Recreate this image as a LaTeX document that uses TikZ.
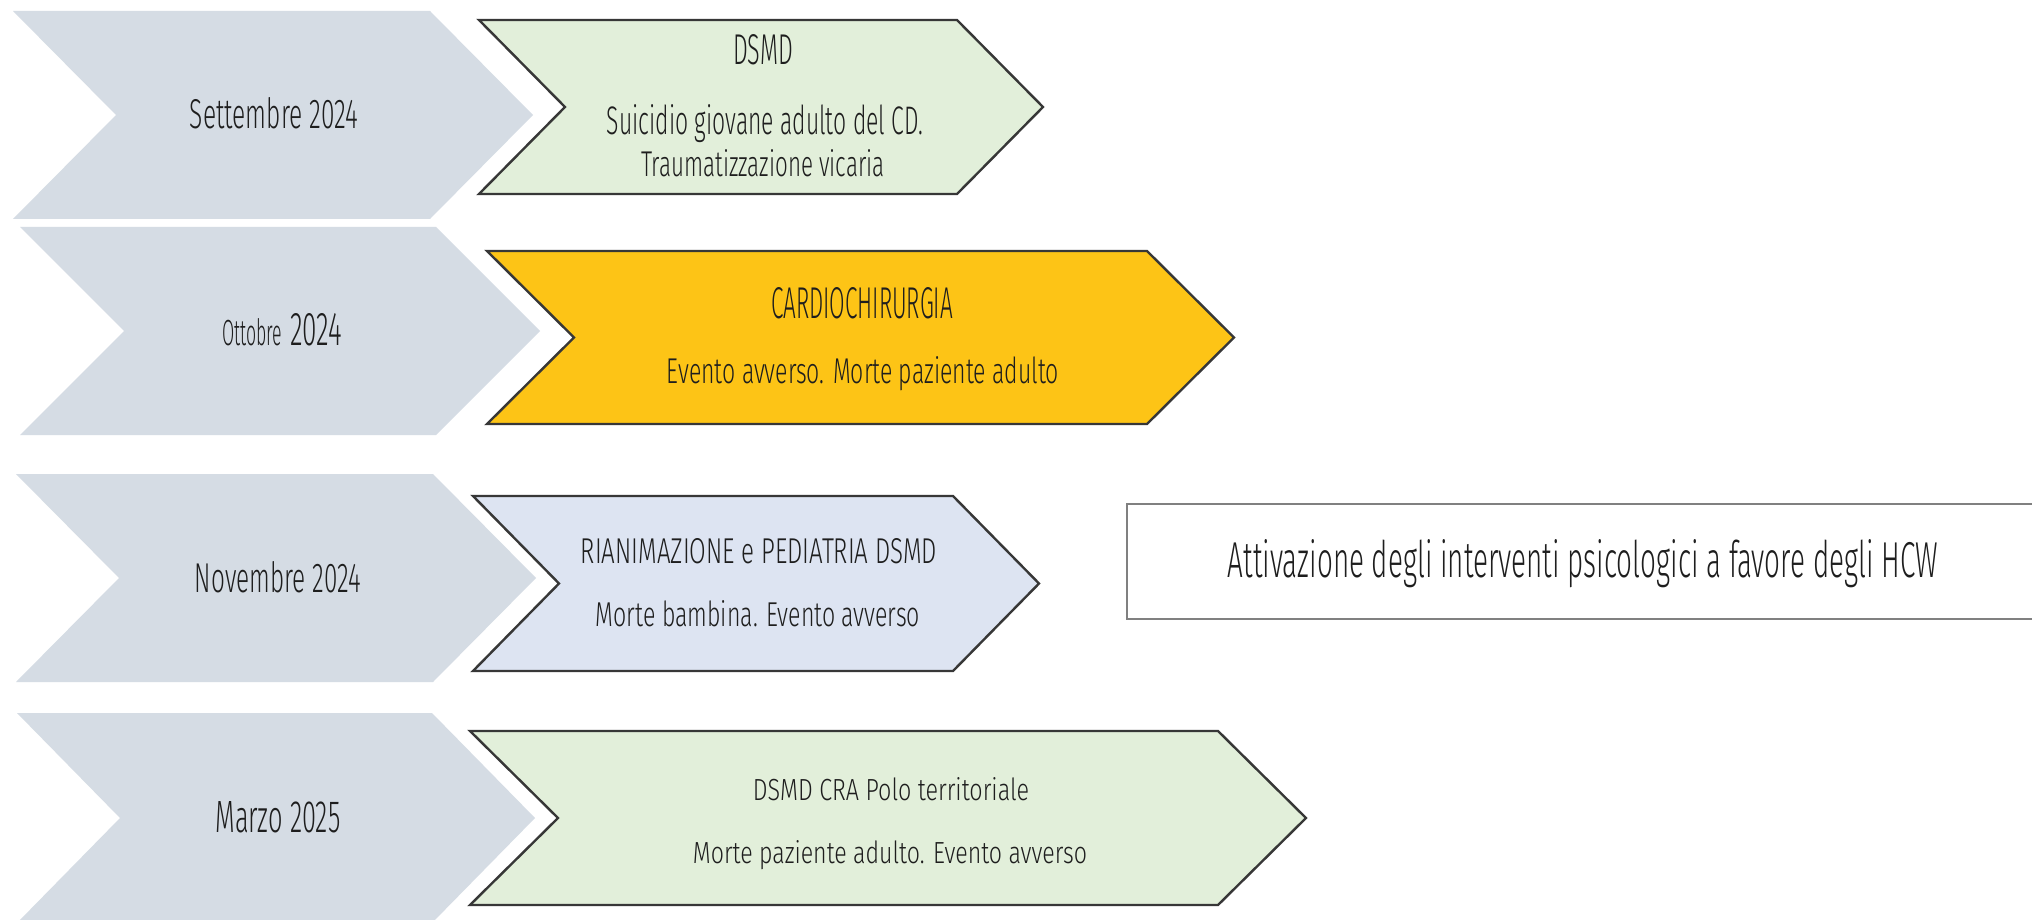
\documentclass[tikz,border=0pt]{standalone}
\usepackage{fontspec}
\setmainfont{Fira Sans Light}
\usepackage{graphicx}
\definecolor{chgray}{RGB}{213,220,228}
\definecolor{chgreen}{RGB}{226,239,218}
\definecolor{chorange}{RGB}{253,196,22}
\definecolor{chblue}{RGB}{221,228,242}
\definecolor{chline}{RGB}{55,55,55}
\definecolor{boxline}{RGB}{128,128,128}
\definecolor{txt}{RGB}{30,30,30}
% width, cap height, text
\newcommand\fitt[3]{\resizebox{#1pt}{#2pt}{#3}}
% style, xleft, xright, ytop, ybottom, depth
\newcommand\drawchev[6]{\path[#1] (#2,#4) -- (#3,#4) -- ({#3+#6},{(#4+#5)/2}) -- (#3,#5) -- (#2,#5) -- ({#2+#6},{(#4+#5)/2}) -- cycle;}
\begin{document}
\begin{tikzpicture}[x=1pt,y=-1pt,
  graychev/.style={fill=chgray,draw=none},
  evchev/.style={draw=chline,line width=2.4pt,line join=miter},
  lbl/.style={anchor=base,inner sep=0pt,outer sep=0pt,text=txt}]
\useasboundingbox (0,0) rectangle (2032,920);
\fill[white] (0,0) rectangle (2032,920);

% grey date chevrons
\drawchev{graychev}{13}{430}{11}{219}{103}
\drawchev{graychev}{20}{436}{227}{435}{104}
\drawchev{graychev}{16}{433}{474}{682}{103}
\drawchev{graychev}{17}{432}{713}{923}{103}

% event chevrons
\drawchev{evchev,fill=chgreen}{479}{957}{20}{194}{86}
\drawchev{evchev,fill=chorange}{487}{1147}{251}{424}{87}
\drawchev{evchev,fill=chblue}{473}{953}{496}{671}{86}
\drawchev{evchev,fill=chgreen}{470}{1218}{731}{905}{88}

% right box
\draw[boxline,line width=2.4pt,fill=white] (1127,504) rectangle (2045,619);

% date labels
\node[lbl] (d1) at (274,129) {\fitt{168}{31}{Settembre 2024}};
\node[lbl] (d2) at (282,345) {\fitt{60}{27}{Ottobre}\hspace{8pt}\fitt{52}{32}{2024}};
\node[lbl] (d3) at (278,592) {\fitt{166}{31}{Novembre 2024}};
\node[lbl] (d4) at (278,832) {\fitt{125}{31}{Marzo 2025}};

% event texts
\node[lbl] (e1a) at (763,65) {\fitt{60}{30}{DSMD}};
\node[lbl] (e1b) at (765,135) {\fitt{316}{30}{Suicidio giovane adulto del CD.}};
\node[lbl] (e1c) at (763,177) {\fitt{243}{27}{Traumatizzazione vicaria}};

\node[lbl] (e2a) at (862,318) {\fitt{182}{31}{CARDIOCHIRURGIA}};
\node[lbl] (e2b) at (863,383) {\fitt{392}{27}{Evento avverso. Morte paziente adulto}};

\node[lbl] (e3a) at (759,563) {\fitt{356}{25}{RIANIMAZIONE e PEDIATRIA DSMD}};
\node[lbl] (e3b) at (758,626) {\fitt{324}{26}{Morte bambina. Evento avverso}};

\node[lbl] (e4a) at (891,800) {\fitt{276}{23}{DSMD CRA Polo territoriale}};
\node[lbl] (e4b) at (890,863) {\fitt{394}{23}{Morte paziente adulto. Evento avverso}};

\node[lbl] (act) at (1583,577) {\fitt{710}{38}{Attivazione degli interventi psicologici a favore degli HCW}};
\end{tikzpicture}
\end{document}
